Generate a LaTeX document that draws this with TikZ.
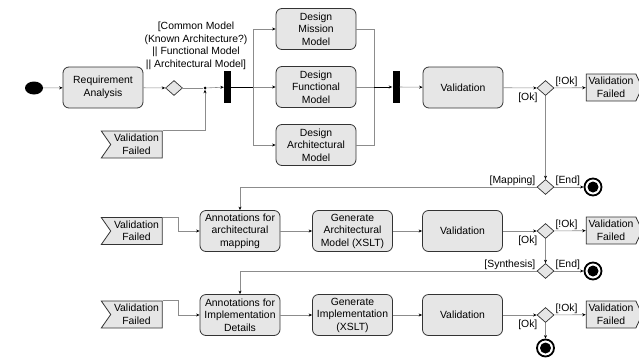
\documentclass[tikz,border=0pt]{standalone}
\usepackage{fontspec}
\setmainfont{Liberation Sans}
\usetikzlibrary{shapes.geometric,shapes.symbols,arrows.meta}
\definecolor{boxfill}{HTML}{E6E6E6}
\definecolor{flowgray}{HTML}{8C8C8C}
\newcommand{\dfont}{\fontsize{10.4}{12.5}\selectfont}
\tikzset{
  act/.style={draw=black!80, fill=boxfill, rounded corners=6pt, line width=0.8pt,
    minimum width=80pt, minimum height=41pt, align=center, inner sep=1pt, font=\dfont},
  dec/.style={diamond, draw=black!80, fill=boxfill, line width=0.7pt,
    minimum width=17pt, minimum height=15pt, inner sep=0pt},
  forkbar/.style={fill=black, minimum width=7pt, minimum height=32pt, inner sep=0pt},
  startnode/.style={ellipse, fill=black, minimum width=18pt, minimum height=13pt, inner sep=0pt},
  endnode/.style={circle, draw=black, line width=1.8pt, fill=white, minimum size=17pt, inner sep=0pt,
    path picture={\fill[black] (path picture bounding box.center) circle (5.5pt);}},
  sendsig/.style={signal, signal to=east, signal pointer angle=130, draw=black!80, fill=boxfill,
    line width=0.8pt, minimum width=56pt, minimum height=27pt, align=center, inner sep=1pt, font=\dfont},
  acceptsig/.style={signal, signal from=west, signal to=nowhere, signal pointer angle=110, draw=black!80,
    fill=boxfill, line width=0.8pt, minimum width=61pt, minimum height=27pt, align=center, inner sep=1pt, font=\dfont},
  guard/.style={font=\dfont, inner sep=1pt},
  okguard/.style={guard, pos=1, below left, yshift=-4pt, xshift=2pt},
  wire/.style={draw=flowgray, line width=0.6pt},
  flow/.style={wire, -{Stealth[length=3.5pt,width=3pt,color=black]}},
}
\begin{document}
\begin{tikzpicture}[x=1pt,y=-1pt]
\useasboundingbox (0,0) rectangle (639,359);
\node[startnode] (start) at (34,88) {};
\node[act] (req) at (103,87.5) {Requirement\\Analysis};
\node[dec] (dec1) at (174,88) {};
\node[circle, fill=black, minimum size=3pt, inner sep=0pt] (dot) at (205,88) {};
\node[forkbar] (fork1) at (227.5,87) {};
\node[guard, align=center] (gsel) at (196,46) {[Common Model\\(Known Architecture?)\\|| Functional Model\\|| Architectural Model]};
\node[acceptsig] (acc1) at (136.5,144.5) {Validation\\Failed};
\coordinate (split) at (253,87);
\coordinate (merge) at (374,87);
\node[act] (mission) at (316,29) {Design\\Mission\\Model};
\node[act] (func) at (316,87) {Design\\Functional\\Model};
\node[act] (archi) at (316,145) {Design\\Architectural\\Model};
\node[forkbar] (join1) at (396,87) {};
\node[act] (val1) at (463,87.5) {Validation};
\node[dec] (dec2) at (545.5,88) {};
\node[sendsig] (vf1) at (611,87.5) {Validation\\Failed};
\node[dec] (map) at (545.5,187) {};
\node[endnode] (end1) at (593,187) {};

\node[acceptsig] (acc2) at (136.5,231) {Validation\\Failed};
\node[act] (ann1) at (240,231) {Annotations for\\architectural\\mapping};
\node[act] (gen1) at (352.5,231) {Generate\\Architectural\\Model (XSLT)};
\node[act] (val2) at (462.5,231) {Validation};
\node[dec] (dec3) at (545.5,231) {};
\node[sendsig] (vf2) at (611,230.5) {Validation\\Failed};
\node[dec] (synth) at (545.5,271) {};
\node[endnode] (end2) at (593,271) {};

\node[acceptsig] (acc3) at (136.5,314.5) {Validation\\Failed};
\node[act] (ann2) at (240,315) {Annotations for\\Implementation\\Details};
\node[act] (gen2) at (352.5,315) {Generate\\Implementation\\(XSLT)};
\node[act] (val3) at (462.5,315) {Validation};
\node[dec] (dec4) at (545.5,315) {};
\node[sendsig] (vf3) at (611,314.5) {Validation\\Failed};
\node[endnode] (end3) at (545.5,348) {};

\draw[flow] (start) -- (req);
\draw[flow] (req) -- (dec1);
\draw[wire] (dec1) -- (dot);
\draw[flow] (acc1.north east) -| (dot);
\draw[flow] (dot) -- (fork1);
\draw[wire, draw=black] (fork1) -- (split);
\draw[flow] (split) |- (mission.west);
\draw[flow] (split) -- (func.west);
\draw[flow] (split) |- (archi.west);
\draw[wire] (mission.east) -| (merge);
\draw[wire] (archi.east) -| (merge);
\draw[wire] (func.east) -- (merge);
\draw[flow, draw=black] (merge) -- (join1);
\draw[flow] (join1) -- (val1);
\draw[flow] (val1) -- (dec2) node[okguard] {[Ok]};
\draw[flow] (dec2) -- (vf1) node[guard, pos=0, above right] {[!Ok]};
\draw[flow] (dec2) -- (map);
\draw[flow] (map) -- (end1) node[guard, pos=0, above right] {[End]};
\draw[flow] (map) -| (ann1) node[guard, pos=0, above left] {[Mapping]};

\draw[flow] (acc2.north east) -- ++(16,0) |- (ann1);
\draw[flow] (ann1) -- (gen1);
\draw[flow] (gen1) -- (val2);
\draw[flow] (val2) -- (dec3) node[okguard] {[Ok]};
\draw[flow] (dec3) -- (vf2) node[guard, pos=0, above right] {[!Ok]};
\draw[flow] (dec3) -- (synth);
\draw[flow] (synth) -- (end2) node[guard, pos=0, above right] {[End]};
\draw[flow] (synth) -| (ann2) node[guard, pos=0, above left] {[Synthesis]};

\draw[flow] (acc3.north east) -- ++(16,0) |- (ann2);
\draw[flow] (ann2) -- (gen2);
\draw[flow] (gen2) -- (val3);
\draw[flow] (val3) -- (dec4) node[okguard] {[Ok]};
\draw[flow] (dec4) -- (vf3) node[guard, pos=0, above right] {[!Ok]};
\draw[flow] (dec4) -- (end3);
\end{tikzpicture}
\end{document}
